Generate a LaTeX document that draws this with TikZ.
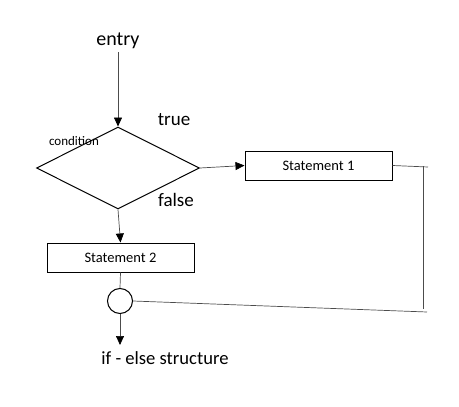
\documentclass[tikz,border=0pt]{standalone}
\usepackage{fontspec}
\setmainfont{Carlito}
\usetikzlibrary{arrows.meta,shapes.geometric}

\begin{document}
\begin{tikzpicture}[x=1pt,y=-1pt,
		stmt/.style={draw, line width=1pt, minimum width=147pt, minimum height=29pt, inner sep=0pt, font=\fontsize{14.5}{16}\selectfont},
		flow/.style={-{Triangle[length=9pt,width=8pt,black]}, gray!60!black, line width=0.7pt},
		link/.style={gray!60!black, line width=0.7pt}]
		\useasboundingbox (0,0) rectangle (459,407);

		% texts
		\node (entry) at (118,41) {\fontsize{20}{22}\selectfont entry};
		\node (true) at (174,120) {\fontsize{19}{21}\selectfont true};
		\node (false) at (176,200) {\fontsize{19}{21}\selectfont false};
		\node (cond) at (74,141) {\fontsize{13}{15}\selectfont condition};
		\node (title) at (165,358) {\fontsize{18.6}{21}\selectfont if - else structure};

		% decision
		\node [diamond, draw, line width=1pt, minimum width=163pt, minimum height=82pt, inner sep=0pt] (dec) at (118,168) {};

		% statements
		\node [stmt] (s1) at (318.5,165.5) {Statement 1};
		\node [stmt] (s2) at (120.5,257.5) {Statement 2};

		% joining circle
		\node [circle, draw, line width=1pt, minimum size=25pt, inner sep=0pt] (join) at (120,301) {};

		% arrows
		\draw [flow] (entry) -- (dec.north);
		\draw [flow] (dec.east) -- (s1.west);
		\draw [flow] (dec.south) -- (s2.north);
		\draw [link] (s2.south) -- (join.north);
		\coordinate (end) at (120,345);
		\draw [flow] (join.south) -- (end);

		% loop back from statement 1
		\coordinate (r1) at (428,167);
		\coordinate (r2) at (423,166);
		\coordinate (r3) at (423,309);
		\coordinate (r4) at (427,312);
		\draw [link] (s1.east) -- (r1);
		\draw [link] (r2) -- (r3);
		\draw [link] (join.east) -- (r4);
	\end{tikzpicture}
\end{document}
